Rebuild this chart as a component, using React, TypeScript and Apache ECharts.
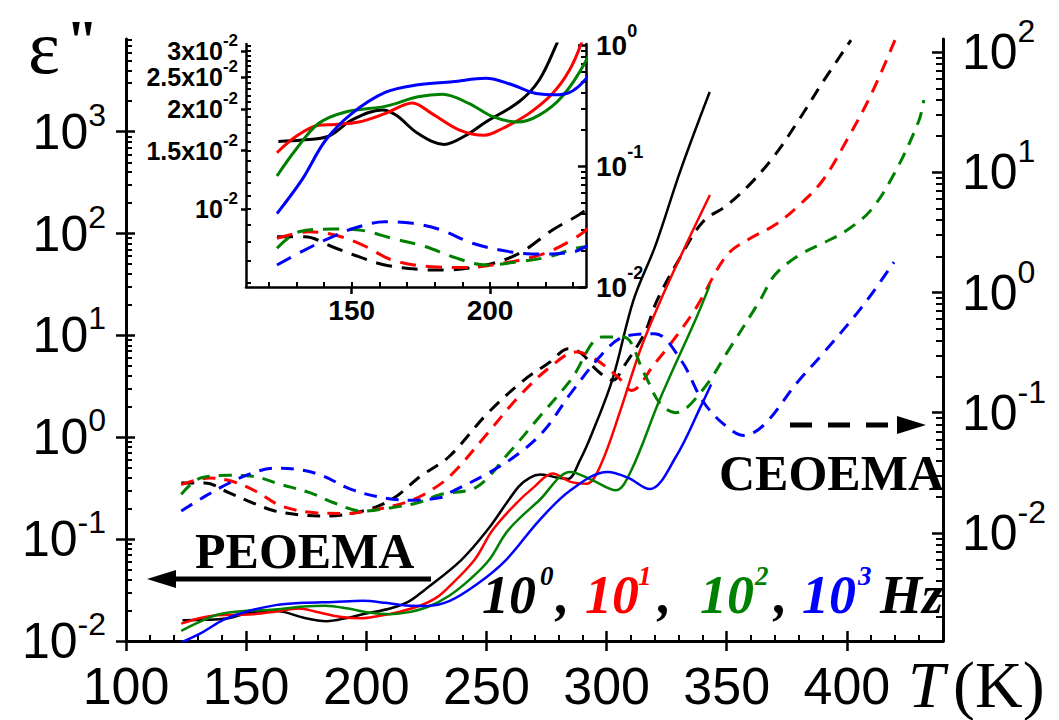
import React, { useEffect, useRef } from "react";
import * as echarts from "echarts";

const SANS = "Liberation Sans, Arial, sans-serif";
const SERIF = "Liberation Serif, Times New Roman, serif";
const COLORS = ["#000000", "#ff0000", "#008000", "#0000ff"];

// ---- ε'' (solid curves, left axis), T in K ----
const solidT_1 = [123.5, 132, 141.7, 150, 161, 166, 174, 183.4, 191.4, 198.5, 210.6, 217.8, 223.9, 239.4, 250.3, 263.3, 268, 272.5, 280, 284, 289, 294, 302.5, 311.2, 320.4, 330.8, 342.9];
const solidV_1 = [0.016, 0.01615, 0.0166, 0.01854, 0.0199, 0.0192, 0.0169, 0.01567, 0.0167, 0.0183, 0.0211, 0.0245, 0.0312, 0.062, 0.122, 0.326, 0.40, 0.43, 0.40, 0.39, 0.6, 1.1, 3.75, 22.2, 77, 419, 2450];

const solidT_10 = [123, 129.7, 138, 144, 152.6, 162, 172, 179, 189, 198, 204.5, 214, 222.6, 228.7, 233, 244.9, 252.5, 262, 269.9, 277.5, 285, 291.7, 297.5, 305.8, 314, 322.5, 333, 343];
const solidV_10 = [0.01479, 0.01652, 0.0179, 0.018, 0.0183, 0.0194, 0.0209, 0.0194, 0.0173, 0.0167, 0.0175, 0.0194, 0.0223, 0.0262, 0.0316, 0.062, 0.122, 0.22, 0.326, 0.44, 0.365, 0.35, 0.532, 1.85, 7.2, 22.2, 77, 239];

const solidT_100 = [123, 129.7, 138, 147.8, 162, 174, 182.8, 192.5, 201, 210, 217.8, 226, 234.5, 243, 251, 259, 272, 285, 294, 303.8, 310.3, 322, 337.5, 342.9];
const solidV_100 = [0.01259, 0.01507, 0.01811, 0.01963, 0.0204, 0.0218, 0.0222, 0.0208, 0.019, 0.0183, 0.0192, 0.0218, 0.0278, 0.04, 0.062, 0.122, 0.241, 0.457, 0.38, 0.302, 0.475, 2.31, 15.2, 31];

const solidT_1000 = [123, 132, 140.5, 150, 162.3, 174, 186.4, 198.5, 208, 216.6, 225, 234.5, 246, 258, 272, 285, 300.4, 309, 317.9, 328.8, 339.8, 343.5];
const solidV_1000 = [0.0097, 0.01225, 0.0161, 0.0194, 0.0225, 0.0237, 0.0242, 0.0248, 0.0237, 0.0223, 0.0221, 0.0246, 0.036, 0.062, 0.153, 0.302, 0.457, 0.40, 0.31, 0.64, 2.15, 3.3];

// ---- dashed curves (right axis) ----
const dashT_1 = [123, 133, 143, 152.6, 162, 174, 183, 198.5, 210.6, 222.6, 234.5, 250.3, 265.5, 276.5, 284, 289.6, 296, 302.7, 307, 315.7, 321, 330, 340, 350, 360, 370, 380, 390, 401.7];
const dashV_1 = [0.026, 0.026, 0.0215, 0.0178, 0.0152, 0.014, 0.0138, 0.0152, 0.019, 0.0296, 0.0432, 0.098, 0.186, 0.264, 0.341, 0.31, 0.225, 0.186, 0.24, 0.455, 0.86, 1.86, 3.86, 5.3, 8.1, 13.9, 27.3, 56.5, 126];

const dashT_10 = [123, 134.5, 144, 154, 164.7, 179, 191.3, 204.5, 219, 230.5, 237.1, 250.3, 263.3, 276.5, 287.4, 294, 304.8, 310.3, 320, 328.8, 337.5, 350, 360, 370, 380, 390, 400, 410, 420];
const dashV_10 = [0.0252, 0.0286, 0.0269, 0.0222, 0.0167, 0.0147, 0.0145, 0.0157, 0.0187, 0.0252, 0.033, 0.0668, 0.135, 0.24, 0.32, 0.29, 0.198, 0.153, 0.256, 0.427, 0.76, 2.04, 2.84, 3.64, 5.3, 8.6, 18.6, 44, 126];

const dashT_100 = [123, 131, 143, 152.6, 164.7, 176.8, 186.4, 198.5, 210.6, 221.4, 231, 245.8, 259, 272, 285, 298.3, 307, 315.7, 322.3, 328.8, 339.8, 350.7, 363.8, 370, 380, 390, 400, 410, 420, 430, 432];
const dashV_100 = [0.0209, 0.0286, 0.0301, 0.0296, 0.0252, 0.0215, 0.0178, 0.0152, 0.0162, 0.0178, 0.0209, 0.024, 0.0455, 0.092, 0.186, 0.427, 0.427, 0.211, 0.119, 0.1, 0.153, 0.33, 0.86, 1.4, 2.04, 2.57, 3.3, 4.85, 10, 27, 40];

const dashT_1000 = [123, 133, 143, 152.6, 162, 172, 181.6, 193.7, 207, 217.8, 230.5, 234.5, 250.3, 263.3, 274, 285, 298.3, 307, 320, 331, 339.8, 348.5, 357.3, 366, 379, 390, 406.3, 419.6];
const dashV_1000 = [0.0152, 0.0202, 0.026, 0.0315, 0.0346, 0.0336, 0.03, 0.023, 0.0196, 0.0187, 0.0196, 0.0215, 0.031, 0.0455, 0.071, 0.144, 0.31, 0.427, 0.455, 0.273, 0.127, 0.081, 0.0646, 0.081, 0.175, 0.31, 0.76, 1.79];

// ---- tick values ----
const xMajor = [100, 150, 200, 250, 300, 350, 400];
const xMinor = [110, 120, 130, 140, 160, 170, 180, 190, 210, 220, 230, 240, 260, 270, 280, 290, 310, 320, 330, 340, 360, 370, 380, 390, 410, 420, 430];
const leftDecades = [0.01, 0.1, 1, 10, 100, 1000];
const rightDecades = [0.01, 0.1, 1, 10, 100];
const insetXMajor = [150, 200];
const insetXInside = [120, 130, 140, 150, 160, 170, 180, 190, 200, 210, 220, 230];
const insetLeftTicks = [0.01, 0.015, 0.02, 0.025, 0.03];
const insetLeftTickText = ["10", "1.5x10", "2x10", "2.5x10", "3x10"];
const insetLeftLabelsA = [0.01, 0.015, 0.02, 0.03];
const insetLeftLabelsB = [0.025];
const insetRightDecades = [0.01, 0.1, 1];

const LEFT_MIN = 0.01, LEFT_MAX = Math.pow(10, 3.91);
const RIGHT_MIN = Math.pow(10, -2.9), RIGHT_MAX = Math.pow(10, 2.11);
const INSET_L_MIN = 0.00583, INSET_L_MAX = 0.03144;
const INSET_R_MIN = 0.01, INSET_R_MAX = 1.02;

function logMinors(kFrom: number, kTo: number, lo: number, hi: number) {
  const out: number[] = [];
  for (let k = kFrom; k <= kTo; k++) {
    for (let m = 2; m <= 9; m++) {
      const v = m * Math.pow(10, k);
      if (v > lo && v < hi) out.push(+v.toPrecision(6));
    }
  }
  return out;
}
function insetLeftMinors() {
  const out: number[] = [];
  for (let i = 6; i <= 31; i++) out.push(i / 1000);
  return out;
}

const pairs = (t: number[], v: number[]) => t.map((x, i) => [x, v[i]]);
const solids = [pairs(solidT_1, solidV_1), pairs(solidT_10, solidV_10), pairs(solidT_100, solidV_100), pairs(solidT_1000, solidV_1000)];
const dashes = [pairs(dashT_1, dashV_1), pairs(dashT_10, dashV_10), pairs(dashT_100, dashV_100), pairs(dashT_1000, dashV_1000)];

const decadeFmt = (v: number) => `{b|10}{s|${Math.round(Math.log10(v))}}`;
const insetLeftFmt = (v: number) => {
  let idx = 0;
  insetLeftTicks.forEach((t, i) => {
    if (Math.abs(Math.log10(v / t)) < Math.abs(Math.log10(v / insetLeftTicks[idx]))) idx = i;
  });
  return `{b|${insetLeftTickText[idx]}}{s|-2}`;
};

const tickOnly = (extra: any) => ({
  splitLine: { show: false },
  axisLine: { show: false },
  axisLabel: { show: false },
  ...extra,
});

function buildOption(): any {
  const blk = "#000";
  const series: any[] = [];
  for (let i = 0; i < 4; i++) {
    series.push({
      type: "line", xAxisIndex: 0, yAxisIndex: 0, data: solids[i], showSymbol: false, symbol: "none",
      smooth: 0.35, lineStyle: { color: COLORS[i], width: 2.5 }, z: 3,
    });
    series.push({
      type: "line", xAxisIndex: 0, yAxisIndex: 3, data: dashes[i], showSymbol: false, symbol: "none",
      smooth: 0.35, lineStyle: { color: COLORS[i], width: 3, type: [13, 9] }, z: 3,
    });
    series.push({
      type: "line", xAxisIndex: 3, yAxisIndex: 5, data: solids[i], showSymbol: false, symbol: "none",
      smooth: 0.35, lineStyle: { color: COLORS[i], width: 3 }, z: 3,
    });
    series.push({
      type: "line", xAxisIndex: 3, yAxisIndex: 7, data: dashes[i], showSymbol: false, symbol: "none",
      smooth: 0.35, lineStyle: { color: COLORS[i], width: 3, type: [16, 10] }, z: 3,
    });
  }

  const txt = (text: string, x: number, y: number, style: any) => ({
    type: "text", x, y, z: 10,
    style: { text, fill: blk, align: "left", verticalAlign: "middle", ...style },
  });
  const legStyle = (c: string, size: number) => ({ fill: c, fontFamily: SERIF, fontWeight: "bold", fontStyle: "italic", fontSize: size });
  const baseY = 595, supY = 576;

  const graphic: any[] = [
    txt("ε", 28, 47, { fontFamily: SERIF, fontSize: 76 }),
    txt('"', 66, 40, { fontFamily: SERIF, fontWeight: "bold", fontSize: 58 }),
    txt("T", 908, 684, { fontFamily: SERIF, fontStyle: "italic", fontSize: 66 }),
    txt("(K)", 953, 684, { fontFamily: SERIF, fontSize: 66 }),
    txt("PEOEMA", 195, 551, { fontFamily: SERIF, fontWeight: "bold", fontSize: 50 }),
    txt("CEOEMA", 719, 473, { fontFamily: SERIF, fontWeight: "bold", fontSize: 50 }),
    // arrows
    { type: "line", z: 10, shape: { x1: 431, y1: 579, x2: 170, y2: 579 }, style: { stroke: blk, lineWidth: 5 } },
    { type: "polygon", z: 10, shape: { points: [[147, 579], [176, 570], [176, 588]] }, style: { fill: blk } },
    { type: "line", z: 10, shape: { x1: 790, y1: 425, x2: 888, y2: 425 }, style: { stroke: blk, lineWidth: 5, lineDash: [22, 16] } },
    { type: "polygon", z: 10, shape: { points: [[926, 425], [897, 416], [897, 434]] }, style: { fill: blk } },
    // frequency legend
    txt("10", 482, baseY, legStyle(COLORS[0], 54)),
    txt("0", 540, supY, legStyle(COLORS[0], 27)),
    txt(",", 556, baseY, legStyle(blk, 54)),
    txt("10", 585, baseY, legStyle(COLORS[1], 54)),
    txt("1", 638, supY, legStyle(COLORS[1], 27)),
    txt(",", 658, baseY, legStyle(blk, 54)),
    txt("10", 700, baseY, legStyle(COLORS[2], 54)),
    txt("2", 755, supY, legStyle(COLORS[2], 27)),
    txt(",", 774, baseY, legStyle(blk, 54)),
    txt("10", 802, baseY, legStyle(COLORS[3], 54)),
    txt("3", 858, supY, legStyle(COLORS[3], 27)),
    txt("Hz", 880, baseY, legStyle(blk, 54)),
  ];

  const mainLine = { show: true, onZero: false, lineStyle: { color: blk, width: 3 } };
  const insetLine = { show: true, onZero: false, lineStyle: { color: blk, width: 2.5 } };
  const tickLS = (w: number) => ({ color: blk, width: w });
  const lbl = { showMinLabel: true, showMaxLabel: true, hideOverlap: false };
  const insetLeftRich = {
    b: { fontSize: 25, lineHeight: 38, fontWeight: "bold", fontFamily: SANS, color: blk },
    s: { fontSize: 17, lineHeight: 17, verticalAlign: "top", fontWeight: "bold", fontFamily: SANS, color: blk },
  };

  return {
    animation: false,
    backgroundColor: "#fff",
    textStyle: { fontFamily: SANS },
    grid: [
      { left: 126, top: 39, right: 116, bottom: 79, containLabel: false, outerBoundsMode: "none" },
      { left: 246, top: 44, width: 340, height: 243, containLabel: false, outerBoundsMode: "none" },
    ],
    xAxis: [
      {
        gridIndex: 0, type: "value", min: 100, max: 440, position: "bottom",
        axisLine: mainLine, splitLine: { show: false },
        axisTick: { show: true, inside: false, length: 10, customValues: xMajor, lineStyle: tickLS(2.5) },
        axisLabel: { show: true, ...lbl, customValues: xMajor, margin: 19, fontSize: 52, fontFamily: SANS, color: blk },
      },
      tickOnly({ gridIndex: 0, type: "value", min: 100, max: 440, position: "bottom",
        axisTick: { show: true, inside: true, length: 10, customValues: xMajor, lineStyle: tickLS(2.5) } }),
      tickOnly({ gridIndex: 0, type: "value", min: 100, max: 440, position: "bottom",
        axisTick: { show: true, inside: true, length: 6, customValues: xMinor, lineStyle: tickLS(2) } }),
      {
        gridIndex: 1, type: "value", min: 111.8, max: 234.7, position: "bottom",
        axisLine: insetLine, splitLine: { show: false },
        axisTick: { show: true, inside: false, length: 7, customValues: insetXMajor, lineStyle: tickLS(2.5) },
        axisLabel: { show: true, ...lbl, customValues: insetXMajor, margin: 9, fontSize: 28, fontWeight: "bold", fontFamily: SANS, color: blk },
      },
      tickOnly({ gridIndex: 1, type: "value", min: 111.8, max: 234.7, position: "bottom",
        axisTick: { show: true, inside: true, length: 5, customValues: insetXInside, lineStyle: tickLS(2) } }),
    ],
    yAxis: [
      {
        gridIndex: 0, type: "log", logBase: 10, min: LEFT_MIN, max: LEFT_MAX, position: "left",
        axisLine: mainLine, splitLine: { show: false },
        axisTick: { show: true, inside: false, length: 10, customValues: leftDecades, lineStyle: tickLS(2.5) },
        axisLabel: {
          show: true, ...lbl, customValues: leftDecades, margin: 20, formatter: decadeFmt,
          rich: {
            b: { fontSize: 50, lineHeight: 66, fontFamily: SANS, color: blk },
            s: { fontSize: 32, lineHeight: 32, verticalAlign: "top", fontFamily: SANS, color: blk },
          },
        },
      },
      tickOnly({ gridIndex: 0, type: "log", logBase: 10, min: LEFT_MIN, max: LEFT_MAX, position: "left",
        axisTick: { show: true, inside: true, length: 9, customValues: leftDecades, lineStyle: tickLS(2.5) } }),
      tickOnly({ gridIndex: 0, type: "log", logBase: 10, min: LEFT_MIN, max: LEFT_MAX, position: "left",
        axisTick: { show: true, inside: true, length: 6, customValues: logMinors(-2, 3, LEFT_MIN, LEFT_MAX), lineStyle: tickLS(2) } }),
      {
        gridIndex: 0, type: "log", logBase: 10, min: RIGHT_MIN, max: RIGHT_MAX, position: "right",
        axisLine: mainLine, splitLine: { show: false },
        axisTick: { show: true, inside: true, length: 11, customValues: rightDecades, lineStyle: tickLS(2.5) },
        axisLabel: {
          show: true, ...lbl, customValues: rightDecades, margin: 19, formatter: decadeFmt,
          rich: {
            b: { fontSize: 50, lineHeight: 74, fontFamily: SANS, color: blk },
            s: { fontSize: 32, lineHeight: 32, verticalAlign: "top", fontFamily: SANS, color: blk },
          },
        },
      },
      tickOnly({ gridIndex: 0, type: "log", logBase: 10, min: RIGHT_MIN, max: RIGHT_MAX, position: "right",
        axisTick: { show: true, inside: true, length: 7, customValues: logMinors(-3, 2, RIGHT_MIN, RIGHT_MAX), lineStyle: tickLS(2) } }),
      {
        gridIndex: 1, type: "log", logBase: 10, min: INSET_L_MIN, max: INSET_L_MAX, position: "left",
        axisLine: insetLine, splitLine: { show: false },
        axisTick: { show: true, inside: false, length: 5, customValues: insetLeftTicks, lineStyle: tickLS(2.5) },
        axisLabel: {
          show: true, ...lbl, customValues: insetLeftLabelsA, margin: 8,
          formatter: insetLeftFmt, rich: insetLeftRich,
        },
      },
      tickOnly({ gridIndex: 1, type: "log", logBase: 10, min: INSET_L_MIN, max: INSET_L_MAX, position: "left",
        axisTick: { show: true, inside: true, length: 5, customValues: insetLeftMinors(), lineStyle: tickLS(2) } }),
      {
        gridIndex: 1, type: "log", logBase: 10, min: INSET_R_MIN, max: INSET_R_MAX, position: "right",
        axisLine: insetLine, splitLine: { show: false },
        axisTick: { show: true, inside: true, length: 8, customValues: insetRightDecades, lineStyle: tickLS(2.5) },
        axisLabel: {
          show: true, ...lbl, customValues: insetRightDecades, margin: 10, formatter: decadeFmt,
          rich: {
            b: { fontSize: 28, lineHeight: 46, fontWeight: "bold", fontFamily: SANS, color: blk },
            s: { fontSize: 18, lineHeight: 18, verticalAlign: "top", fontWeight: "bold", fontFamily: SANS, color: blk },
          },
        },
      },
      tickOnly({ gridIndex: 1, type: "log", logBase: 10, min: INSET_R_MIN, max: INSET_R_MAX, position: "right",
        axisTick: { show: true, inside: true, length: 5, customValues: logMinors(-2, -1, INSET_R_MIN, INSET_R_MAX), lineStyle: tickLS(2) } }),
      {
        gridIndex: 1, type: "log", logBase: 10, min: INSET_L_MIN, max: INSET_L_MAX, position: "left",
        axisLine: { show: false }, splitLine: { show: false }, axisTick: { show: false },
        axisLabel: {
          show: true, ...lbl, customValues: insetLeftLabelsB, margin: 8,
          formatter: insetLeftFmt, rich: insetLeftRich,
        },
      },
    ],
    series,
    graphic,
  };
}

export default function App() {
  const ref = useRef<HTMLDivElement>(null);
  useEffect(() => {
    if (!ref.current) return;
    const chart = echarts.init(ref.current, null, { renderer: "svg" });
    chart.setOption(buildOption());
    return () => chart.dispose();
  }, []);
  return (
    <div
      ref={ref}
      style={{ position: "fixed", left: 0, top: 0, width: 1059, height: 720, background: "#fff" }}
    />
  );
}
